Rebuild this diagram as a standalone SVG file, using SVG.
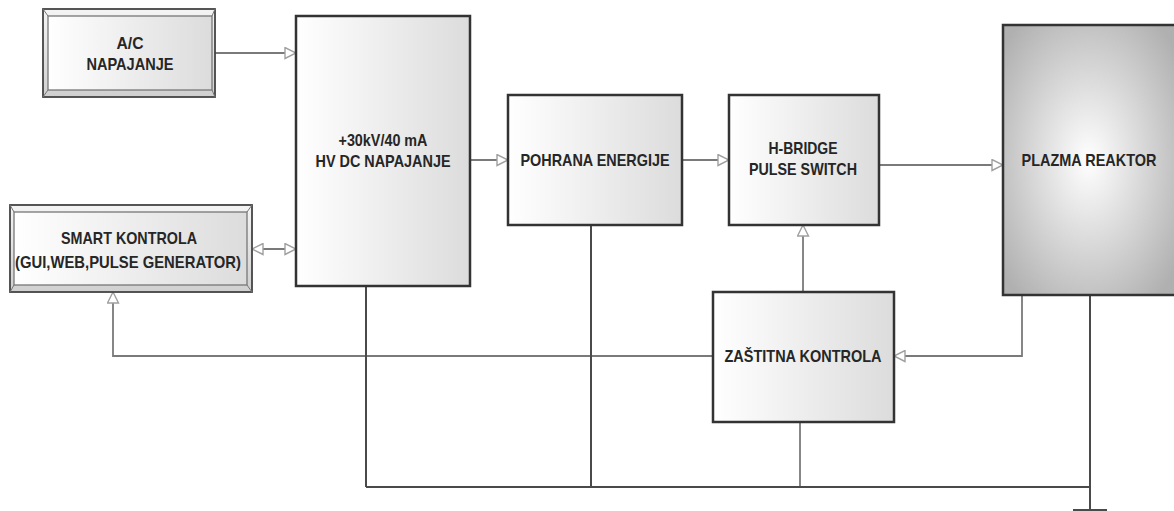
<svg xmlns="http://www.w3.org/2000/svg" width="1174" height="511" viewBox="0 0 1174 511">
<defs>
<linearGradient id="gBox" x1="0" y1="0" x2="1" y2="0">
<stop offset="0" stop-color="#ffffff"/>
<stop offset="1" stop-color="#dcdcdc"/>
</linearGradient>
<linearGradient id="gFrame" x1="0" y1="0" x2="0" y2="1">
<stop offset="0" stop-color="#f4f4f4"/>
<stop offset="1" stop-color="#d0d0d0"/>
</linearGradient>
<radialGradient id="gPlasma" cx="0.5" cy="0.5" r="0.65">
<stop offset="0" stop-color="#ffffff"/>
<stop offset="1" stop-color="#b0b0b0"/>
</radialGradient>
<marker id="arr" viewBox="0 0 13 13" refX="12" refY="6.5" markerWidth="13" markerHeight="13" markerUnits="userSpaceOnUse" orient="auto-start-reverse">
<path d="M1,1 L12,6.5 L1,12 Z" fill="#ffffff" stroke="#a0a0a0" stroke-width="1.4"/>
</marker>
</defs>
<style>
.box{fill:url(#gBox);stroke:#333;stroke-width:2.5}
.frame{fill:url(#gFrame);stroke:#444;stroke-width:1.8}
.inner{fill:url(#gBox);stroke:#777;stroke-width:1.3}
.bev{stroke:#777;stroke-width:1}
.lbl{font-family:"Liberation Sans",Arial,sans-serif;font-weight:bold;font-size:17px;fill:#262626;text-anchor:middle}
.sig{fill:none;stroke:#7a7a7a;stroke-width:1.8}
.bus{fill:none;stroke:#4a4a4a;stroke-width:2}
</style>
<rect width="1174" height="511" fill="#ffffff"/>

<g id="connectors">
<line class="sig" x1="215" y1="53" x2="296" y2="53" marker-end="url(#arr)"/>
<line class="sig" x1="252" y1="249" x2="296" y2="249" marker-start="url(#arr)" marker-end="url(#arr)"/>
<line class="sig" x1="470" y1="160" x2="508" y2="160" marker-end="url(#arr)"/>
<line class="sig" x1="682" y1="160" x2="729" y2="160" marker-end="url(#arr)"/>
<line class="sig" x1="879" y1="165" x2="1003" y2="165" marker-end="url(#arr)"/>
<line class="sig" x1="803" y1="292" x2="803" y2="225" marker-end="url(#arr)"/>
<polyline class="sig" points="713,356 113,356 113,292" marker-end="url(#arr)"/>
<polyline class="sig" points="1022,295 1022,356 894,356" marker-end="url(#arr)"/>
<line class="sig" x1="800" y1="422" x2="800" y2="487" stroke="#999"/>
<line class="bus" x1="366" y1="286" x2="366" y2="487"/>
<line class="bus" x1="591" y1="225" x2="591" y2="487"/>
<line class="bus" x1="366" y1="487" x2="1090" y2="487"/>
<line class="bus" x1="1090" y1="295" x2="1090" y2="511"/>
<line class="bus" x1="1073" y1="510" x2="1107" y2="510" stroke-width="2.5"/>
</g>

<g id="ac">
<rect class="frame" x="43" y="9" width="172" height="88"/>
<rect class="inner" x="48" y="16" width="164" height="74"/>
<line class="bev" x1="43" y1="9" x2="48" y2="16"/>
<line class="bev" x1="215" y1="9" x2="212" y2="16"/>
<line class="bev" x1="43" y1="97" x2="48" y2="90"/>
<line class="bev" x1="215" y1="97" x2="212" y2="90"/>
<text class="lbl" x="130" y="49" textLength="27" lengthAdjust="spacingAndGlyphs">A/C</text>
<text class="lbl" x="130" y="70" textLength="87" lengthAdjust="spacingAndGlyphs">NAPAJANJE</text>
</g>

<g id="smart">
<rect class="frame" x="10" y="205" width="242" height="87"/>
<rect class="inner" x="14" y="212" width="233" height="73"/>
<line class="bev" x1="10" y1="205" x2="14" y2="212"/>
<line class="bev" x1="252" y1="205" x2="247" y2="212"/>
<line class="bev" x1="10" y1="292" x2="14" y2="285"/>
<line class="bev" x1="252" y1="292" x2="247" y2="285"/>
<text class="lbl" x="129" y="244" textLength="136" lengthAdjust="spacingAndGlyphs">SMART KONTROLA</text>
<text class="lbl" x="128" y="268" textLength="226" lengthAdjust="spacingAndGlyphs">(GUI,WEB,PULSE GENERATOR)</text>
</g>

<g id="hvdc">
<rect class="box" x="296" y="16" width="174" height="270"/>
<text class="lbl" x="383" y="146" textLength="89" lengthAdjust="spacingAndGlyphs">+30kV/40 mA</text>
<text class="lbl" x="383" y="167" textLength="135" lengthAdjust="spacingAndGlyphs">HV DC NAPAJANJE</text>
</g>

<g id="pohrana">
<rect class="box" x="508" y="95" width="174" height="130"/>
<text class="lbl" x="595" y="166" textLength="149" lengthAdjust="spacingAndGlyphs">POHRANA ENERGIJE</text>
</g>

<g id="hbridge">
<rect class="box" x="729" y="95" width="150" height="130"/>
<text class="lbl" x="803" y="154" textLength="69" lengthAdjust="spacingAndGlyphs">H-BRIDGE</text>
<text class="lbl" x="803" y="175" textLength="108" lengthAdjust="spacingAndGlyphs">PULSE SWITCH</text>
</g>

<g id="plazma">
<rect x="1003" y="25" width="171" height="270" fill="url(#gPlasma)"/>
<path d="M1174,25 H1003 V295 H1174" fill="none" stroke="#333" stroke-width="2.5"/>
<text class="lbl" x="1089" y="166" textLength="135" lengthAdjust="spacingAndGlyphs">PLAZMA REAKTOR</text>
</g>

<g id="zastitna">
<rect class="box" x="713" y="292" width="181" height="130"/>
<text class="lbl" x="803" y="362" textLength="157" lengthAdjust="spacingAndGlyphs">ZAŠTITNA KONTROLA</text>
</g>
</svg>
